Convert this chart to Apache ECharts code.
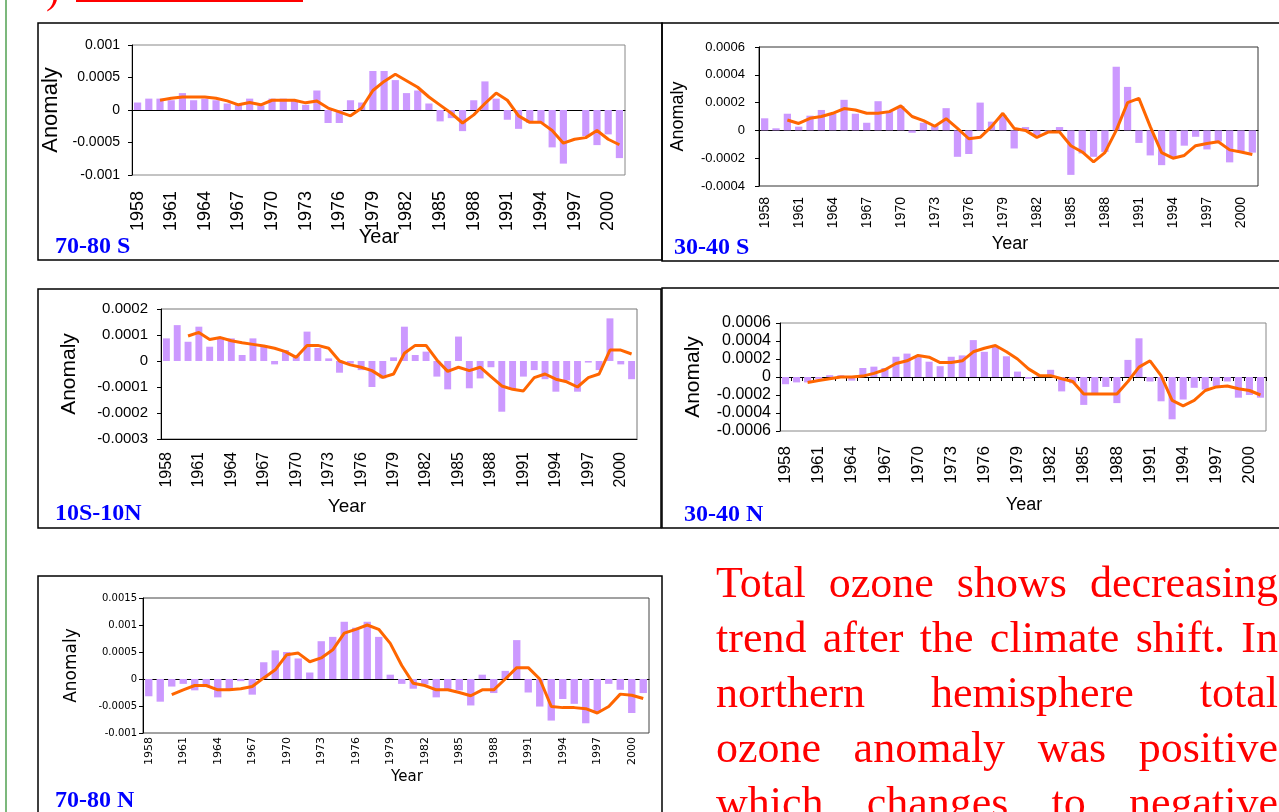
<!DOCTYPE html>
<html>
<head>
<meta charset="utf-8">
<script src="https://cdn.jsdelivr.net/npm/echarts@6.0.0/dist/echarts.min.js"></script>
<style>
body { margin: 0; background: #fff; overflow: hidden; }
#chart { position: absolute; left: 0; top: 0; width: 1279px; height: 812px; }
#greenline { position: absolute; left: 5px; top: 0; width: 2px; height: 812px; background: #7cb87c; }
#redline { position: absolute; left: 76px; top: 0; width: 227px; height: 2px; background: #ff0000; }
#paren { position: absolute; left: 46px; top: -34px; color: #ff0000; font: 40px "Liberation Serif", serif; }
#note { position: absolute; left: 716px; top: 555px; width: 562px; color: #ff0000;
        font-family: "Liberation Serif", serif; font-size: 44px; line-height: 55px; }
#note div { text-align: justify; text-align-last: justify; }
</style>
</head>
<body>
<div id="chart"></div>
<div id="greenline"></div>
<div id="redline"></div>
<div id="paren">)</div>
<div id="note">
  <div>Total ozone shows decreasing</div>
  <div>trend after the climate shift. In</div>
  <div>northern hemisphere total</div>
  <div>ozone anomaly was positive</div>
  <div>which changes to negative</div>
</div>
<script>
var years = ['1958','1959','1960','1961','1962','1963','1964','1965','1966','1967','1968',
  '1969','1970','1971','1972','1973','1974','1975','1976','1977','1978','1979','1980',
  '1981','1982','1983','1984','1985','1986','1987','1988','1989','1990','1991','1992',
  '1993','1994','1995','1996','1997','1998','1999','2000','2001'];

// 70-80 S
var s7080Bars = [0.000115,0.000175,0.000175,0.00015,0.00026,0.00015,0.000175,0.00015,0.0001,0.00008,0.000175,
  0.00007,0.000175,0.000175,0.00015,0.00008,0.0003,-0.0002,-0.0002,0.00015,0.000115,0.0006,0.0006,
  0.00046,0.00026,0.0003,0.0001,-0.000175,-0.000125,-0.000325,0.00015,0.00044,0.000175,-0.00015,-0.00029,
  -0.0002,-0.0002,-0.000575,-0.000825,0,-0.0004,-0.00054,-0.000375,-0.00074];
var s7080Avg = [null,null,0.00015,0.00018,0.0002,0.0002,0.0002,0.00018,0.00014,0.00008,0.000115,
  0.00008,0.00015,0.00015,0.00015,0.00011,0.00014,0.00003,-0.00003,-0.00009,0.00003,0.0003,0.00044,
  0.00055,0.00045,0.00035,0.0002,0.000075,-0.00005,-0.0002,-0.000075,0.0001,0.00026,0.00015,-0.00009,
  -0.00019,-0.00019,-0.000315,-0.00051,-0.00045,-0.000425,-0.000315,-0.00045,-0.000535];

// 30-40 S
var s3040Bars = [0.000087,0.000015,0.00012,0.000027,0.000106,0.000147,0.00012,0.00022,0.00012,0.000055,0.00021,
  0.000135,0.000175,-0.000017,0.000055,0.00004,0.00016,-0.00019,-0.00017,0.0002,0.000063,0.00011,-0.00013,
  0.000024,-0.000034,-0.00001,0.000024,-0.00032,-0.000166,-0.00019,-0.000155,0.000458,0.000313,-0.00009,-0.00018,
  -0.00025,-0.0002,-0.00011,-0.000046,-0.000137,-0.00008,-0.00023,-0.000155,-0.00016];
var s3040Avg = [null,null,0.000075,0.00005,0.000087,0.0001,0.000123,0.000157,0.000147,0.000123,0.000123,
  0.000135,0.000176,0.0001,0.00007,0.00003,0.000084,0.000014,-0.00006,-0.00005,0.000027,0.000123,0.000014,
  0,-0.00005,-0.000012,-0.000012,-0.00011,-0.000155,-0.000227,-0.00016,0,0.0002,0.00023,0.000027,
  -0.00016,-0.0002,-0.00018,-0.00011,-0.000094,-0.000082,-0.00014,-0.000155,-0.000173];

// 10S-10N
var eqBars = [0.000087,0.000138,0.000074,0.000132,0.000055,0.000087,0.000087,0.000023,0.000087,0.00006,-0.000013,
  0.000042,0.000023,0.000113,0.00005,0.00001,-0.000045,-0.00001,-0.000035,-0.0001,-0.000067,0.000014,0.000132,
  0.000023,0.000036,-0.00006,-0.000109,0.000094,-0.000105,-0.000067,-0.000024,-0.000195,-0.00011,-0.00006,-0.000035,
  -0.00007,-0.000118,-0.000075,-0.000118,-0.000006,-0.000035,0.000164,-0.000013,-0.00007];
var eqAvg = [null,null,0.000096,0.00011,0.000083,0.00009,0.000078,0.00007,0.000064,0.000058,0.000049,
  0.000036,0.000014,0.00006,0.00006,0.000049,0,-0.000015,-0.000024,-0.000037,-0.000063,-0.00005,0.00003,
  0.00006,0.00006,0.000004,-0.00004,-0.000024,-0.000037,-0.000024,-0.00006,-0.000096,-0.000109,-0.000115,-0.000064,
  -0.00005,-0.00007,-0.00008,-0.0001,-0.000064,-0.00005,0.000042,0.000042,0.000027];

// 30-40 N
var n3040Bars = [-0.00008,-0.00006,-0.00006,-0.00002,0.00002,0.00002,-0.00004,0.0001,0.000115,0.0001,0.000225,
  0.00026,0.00022,0.00017,0.00012,0.000225,0.00024,0.00041,0.00028,0.00034,0.00023,0.00006,-0.00002,
  0.00001,0.00008,-0.00016,-0.00007,-0.00031,-0.0002,-0.00011,-0.00029,0.00019,0.00043,-0.00005,-0.00027,
  -0.00047,-0.00025,-0.00012,-0.00014,-0.0001,-0.00005,-0.00023,-0.0002,-0.00023];
var n3040Avg = [null,null,-0.00006,-0.00004,-0.00002,0,0,0.00001,0.00004,0.00008,0.00015,
  0.00018,0.00024,0.00022,0.00016,0.00016,0.00018,0.00028,0.00032,0.00035,0.00028,0.0002,0.00009,
  0.000015,0.000015,-0.00002,-0.00005,-0.00019,-0.00019,-0.00019,-0.00019,-0.00005,0.00011,0.00018,0.000015,
  -0.00026,-0.00032,-0.00026,-0.00015,-0.00011,-0.0001,-0.00013,-0.00015,-0.0002];

// 70-80 N
var n7080Bars = [-0.00032,-0.00042,-0.00014,-0.00009,-0.00021,-0.00015,-0.00034,-0.00021,-0.00004,-0.00029,0.00031,
  0.00053,0.0005,0.00038,0.00012,0.0007,0.00078,0.00106,0.00095,0.00106,0.00078,0.00008,-0.00009,
  -0.00018,-0.0001,-0.00034,-0.0002,-0.00021,-0.00049,0.00008,-0.00026,0.00015,0.00072,-0.00025,-0.00051,
  -0.00077,-0.00037,-0.00046,-0.00082,-0.0006,-0.00009,-0.0002,-0.00063,-0.00026];
var n7080Avg = [null,null,-0.00029,-0.0002,-0.00012,-0.00012,-0.0002,-0.0002,-0.00018,-0.00014,0.00002,
  0.00017,0.00045,0.00048,0.00032,0.00039,0.00054,0.00085,0.00092,0.001,0.00092,0.00066,0.00025,
  -0.00008,-0.00012,-0.0002,-0.0002,-0.00025,-0.00031,-0.0002,-0.0002,0,0.00021,0.00021,0,
  -0.00051,-0.00053,-0.00053,-0.00055,-0.00063,-0.00051,-0.00028,-0.0003,-0.00036];

var sans = '"Liberation Sans", Arial, sans-serif';
var wide = '"DejaVu Sans", Verdana, sans-serif';

// one entry per small chart, all positions in page pixels
var panels = [
  { name: '70-80 S', bars: s7080Bars, avg: s7080Avg, min: -0.001, max: 0.001, step: 0.0005,
    box: [38, 23, 624, 237], plot: [132, 45, 493, 130], border: '#888', zero: true, zeroTicks: false,
    font: sans, yFont: 14, xFont: 18, yMargin: 12, xMargin: 16, nameFont: 22, nameGap: 70,
    year: [379, 237, 20], tag: [55, 247] },
  { name: '30-40 S', bars: s3040Bars, avg: s3040Avg, min: -0.0004, max: 0.0006, step: 0.0002,
    box: [662, 23, 640, 238], plot: [759, 47, 499, 139], border: '#333', zero: true, zeroTicks: false,
    font: sans, yFont: 13, xFont: 14, yMargin: 14, xMargin: 11, nameFont: 18, nameGap: 72,
    year: [1010, 244, 18], tag: [674, 248] },
  { name: '10S-10N', bars: eqBars, avg: eqAvg, min: -0.0003, max: 0.0002, step: 0.0001,
    box: [38, 289, 623, 239], plot: [161, 309, 476, 130], border: '#777', zero: false, zeroTicks: false,
    font: sans, yFont: 15, xFont: 16, yMargin: 13, xMargin: 13, nameFont: 21, nameGap: 81,
    year: [347, 507, 19], tag: [55, 514] },
  { name: '30-40 N', bars: n3040Bars, avg: n3040Avg, min: -0.0006, max: 0.0006, step: 0.0002,
    box: [662, 288, 640, 240], plot: [780, 323, 486, 108], border: '#888', zero: true, zeroTicks: true,
    font: sans, yFont: 16, xFont: 17, yMargin: 9, xMargin: 15, nameFont: 21, nameGap: 76,
    year: [1024, 505, 18], tag: [684, 515] },
  { name: '70-80 N', bars: n7080Bars, avg: n7080Avg, min: -0.001, max: 0.0015, step: 0.0005,
    box: [38, 576, 624, 260], plot: [143, 598, 506, 135], border: '#444', zero: true, zeroTicks: false,
    font: wide, yFont: 10, xFont: 11, yMargin: 6, xMargin: 4, nameFont: 17, nameGap: 63,
    year: [407, 777, 15], tag: [55, 801] }
];

var grids = [], xAxes = [], yAxes = [], series = [], graphics = [];

panels.forEach(function (p, i) {
  graphics.push({
    type: 'rect', silent: true, z: 0,
    shape: { x: p.box[0], y: p.box[1], width: p.box[2], height: p.box[3] },
    style: { fill: null, stroke: '#000', lineWidth: 1.5 }
  });
  graphics.push({
    type: 'text', silent: true, x: p.tag[0], y: p.tag[1],
    style: { text: p.name, fill: '#0000ff', font: 'bold 24px "Liberation Serif", serif',
             align: 'left', verticalAlign: 'middle' }
  });
  graphics.push({
    type: 'text', silent: true, x: p.year[0], y: p.year[1],
    style: { text: 'Year', fill: '#000', font: p.year[2] + 'px ' + p.font,
             align: 'center', verticalAlign: 'middle' }
  });

  grids.push({
    left: p.plot[0], top: p.plot[1], width: p.plot[2], height: p.plot[3],
    show: true, borderColor: p.border, borderWidth: 1, backgroundColor: 'transparent'
  });

  var xMain = xAxes.length;
  xAxes.push({
    gridIndex: i, type: 'category', data: years, position: 'bottom',
    axisLine: { show: !p.zero, onZero: false, lineStyle: { color: '#000', width: 1 } },
    axisTick: { show: false },
    axisLabel: { interval: 2, rotate: 90, margin: p.xMargin, color: '#000',
                 fontSize: p.xFont, fontFamily: p.font },
    splitLine: { show: false }
  });
  if (p.zero) {
    // zero line of the chart
    xAxes.push({
      gridIndex: i, type: 'category', data: years, position: 'top',
      axisLine: { onZero: true, lineStyle: { color: '#000', width: 1 } },
      axisTick: { show: p.zeroTicks, inside: true, interval: 0, length: 4,
                  lineStyle: { color: '#000' } },
      axisLabel: { show: false },
      splitLine: { show: false }
    });
  }

  yAxes.push({
    gridIndex: i, type: 'value', min: p.min, max: p.max, interval: p.step,
    name: 'Anomaly', nameLocation: 'middle', nameGap: p.nameGap,
    nameTextStyle: { color: '#000', fontSize: p.nameFont, fontFamily: p.font },
    axisLine: { show: true, lineStyle: { color: '#000', width: 1 } },
    axisTick: { show: true, length: 4, lineStyle: { color: '#000' } },
    axisLabel: { color: '#000', fontSize: p.yFont, fontFamily: p.font, margin: p.yMargin,
                 formatter: function (v) { return String(+v.toFixed(6)); } },
    splitLine: { show: false }
  });

  series.push({
    type: 'bar', xAxisIndex: xMain, yAxisIndex: i, data: p.bars,
    barCategoryGap: '36%', itemStyle: { color: '#cc99ff' }, z: 2, animation: false
  });
  series.push({
    type: 'line', xAxisIndex: xMain, yAxisIndex: i, data: p.avg,
    symbol: 'none', lineStyle: { color: '#ff6600', width: 3 }, z: 3, animation: false
  });
});

var myChart = echarts.init(document.getElementById('chart'));
var option = {
  backgroundColor: '#fff',
  animation: false,
  grid: grids,
  xAxis: xAxes,
  yAxis: yAxes,
  series: series,
  graphic: graphics
};
myChart.setOption(option);
</script>
</body>
</html>
